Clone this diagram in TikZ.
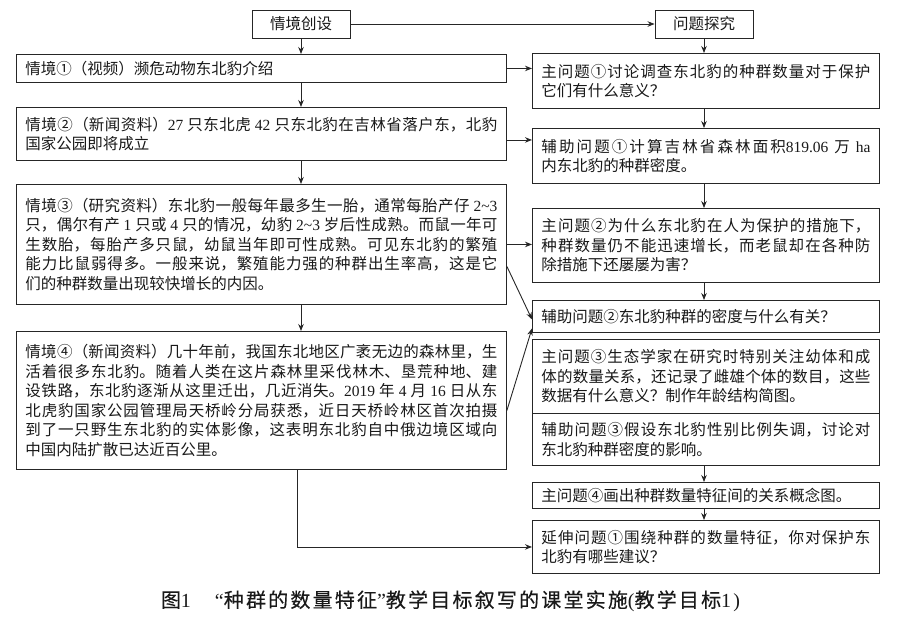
\documentclass[tikz,border=0pt]{standalone}
\usepackage{fontspec}
\setmainfont{Noto Sans CJK SC}
\newfontfamily\latinf{Liberation Serif}
\newfontfamily\capfont[LetterSpace=11,FakeBold=0.3]{Noto Sans CJK SC}
\newfontfamily\latcap[LetterSpace=11]{Liberation Serif}
\newcommand\rmlat[1]{{\latinf #1}}
\XeTeXlinebreaklocale "zh"
\XeTeXlinebreakskip=0pt plus 1.5pt
\usetikzlibrary{arrows.meta}
\begin{document}
\begin{tikzpicture}[x=1pt,y=-1pt,
  every node/.style={text=black!90},
  boxline/.style={draw=black!85, line width=0.9pt},
  conn/.style={draw=black!85, line width=0.9pt, -{Stealth[length=7pt,width=5.5pt]}},
  headbox/.style={boxline, minimum width=98pt, minimum height=28pt, inner sep=0pt, font=\fontsize{15.5pt}{19.5pt}\selectfont},
  tbox/.style={boxline, anchor=north west, inner xsep=9pt, inner ysep=0pt, align=justify, font=\fontsize{15.5pt}{19.5pt}\selectfont},
  lbox/.style={tbox, text width=472pt},
  rbox/.style={tbox, text width=329pt},
]
\fill[white] (0,0) rectangle (900,630);
\useasboundingbox (0,0) rectangle (900,630);

% headers
\node[headbox] (t1) at (301,24) {情境创设};
\node[headbox] (t2) at (704,24) {问题探究};

% left column
\node[lbox, minimum height=28pt] (s1) at (16,54) {情境①（视频）濒危动物东北豹介绍};
\node[lbox, minimum height=53pt] (s2) at (16,107) {情境②（新闻资料）\rmlat{27} 只东北虎 \rmlat{42} 只东北豹在吉林省落户东，北豹\linebreak
国家公园即将成立};
\node[lbox, minimum height=120pt] (s3) at (16,184) {情境③（研究资料）东北豹一般每年最多生一胎，通常每胎产仔 \rmlat{2\textasciitilde3}\linebreak
只，偶尔有产 \rmlat{1} 只或 \rmlat{4} 只的情况，幼豹 \rmlat{2\textasciitilde3} 岁后性成熟。而鼠一年可\linebreak
生数胎，每胎产多只鼠，幼鼠当年即可性成熟。可见东北豹的繁殖\linebreak
能力比鼠弱得多。一般来说，繁殖能力强的种群出生率高，这是它\linebreak
们的种群数量出现较快增长的内因。};
\node[lbox, minimum height=138pt] (s4) at (16,331) {情境④（新闻资料）几十年前，我国东北地区广袤无边的森林里，生\linebreak
活着很多东北豹。随着人类在这片森林里采伐林木、垦荒种地、建\linebreak
设铁路，东北豹逐渐从这里迁出，几近消失。\rmlat{2019} 年 \rmlat{4} 月 \rmlat{16} 日从东\linebreak
北虎豹国家公园管理局天桥岭分局获悉，近日天桥岭林区首次拍摄\linebreak
到了一只野生东北豹的实体影像，这表明东北豹自中俄边境区域向\linebreak
中国内陆扩散已达近百公里。};

% right column
\node[rbox, minimum height=55pt] (q1) at (532,53) {主问题①讨论调查东北豹的种群数量对于保护\linebreak
它们有什么意义？};
\node[rbox, minimum height=55pt] (q2) at (532,128) {辅助问题①计算吉林省森林面积\rmlat{819.06} 万 \rmlat{ha}\linebreak
内东北豹的种群密度。};
\node[rbox, minimum height=74pt] (q3) at (532,208) {主问题②为什么东北豹在人为保护的措施下，\linebreak
种群数量仍不能迅速增长，而老鼠却在各种防\linebreak
除措施下还屡屡为害？};
\node[rbox, minimum height=32pt] (q4) at (532,300) {辅助问题②东北豹种群的密度与什么有关？};
\node[rbox, minimum height=74pt] (q5) at (532,339) {主问题③生态学家在研究时特别关注幼体和成\linebreak
体的数量关系，还记录了雌雄个体的数目，这些\linebreak
数据有什么意义？制作年龄结构简图。};
\node[rbox, minimum height=52pt] (q6) at (532,413) {辅助问题③假设东北豹性别比例失调，讨论对\linebreak
东北豹种群密度的影响。};
\node[rbox, minimum height=26pt] (q7) at (532,482) {主问题④画出种群数量特征间的关系概念图。};
\node[rbox, minimum height=53pt] (q8) at (532,520) {延伸问题①围绕种群的数量特征，你对保护东\linebreak
北豹有哪些建议？};

% caption
\node[font=\fontsize{20pt}{24pt}\selectfont, inner sep=0pt] (cap) at (450.5,601) {\capfont 图{\latcap 1}\hspace{1.2em}{\latcap “}种群的数量特征{\latcap ”}教学目标叙写的课堂实施{\latcap (}教学目标{\latcap 1)}};

% connectors
\draw[conn] (t1.east) -- (t2.west);
\draw[conn] (t1.south) -- (t1.south |- s1.north);
\draw[conn] (s1.south -| t1.south) -- (s2.north -| t1.south);
\draw[conn] (s2.south -| t1.south) -- (s3.north -| t1.south);
\draw[conn] (s3.south -| t1.south) -- (s4.north -| t1.south);
\coordinate (c4) at (s4.south -| t1.south);
\draw[conn] ([xshift=-4pt]c4) |- (q8.west);

\draw[conn] (t2.south) -- (t2.south |- q1.north);
\draw[conn] (q1.south -| t2.south) -- (q2.north -| t2.south);
\draw[conn] (q2.south -| t2.south) -- (q3.north -| t2.south);
\draw[conn] (q3.south -| t2.south) -- (q4.north -| t2.south);
\draw[conn] (q6.south -| t2.south) -- (q7.north -| t2.south);
\draw[conn] (q7.south -| t2.south) -- (q8.north -| t2.south);

\draw[conn] (s1.east) -- (s1.east -| q1.west);
\coordinate (c2) at ([yshift=-6pt]s2.east);
\draw[conn] (c2) -- (c2 -| q2.west);
\draw[conn] (s3.east) -- (s3.east -| q3.west);
\draw[conn] ([yshift=-22pt]s3.east) -- ([yshift=-3pt]q4.west);
\draw[conn] ([yshift=-10pt]s4.east) -- ([yshift=-12pt]q4.west);
\end{tikzpicture}
\end{document}
